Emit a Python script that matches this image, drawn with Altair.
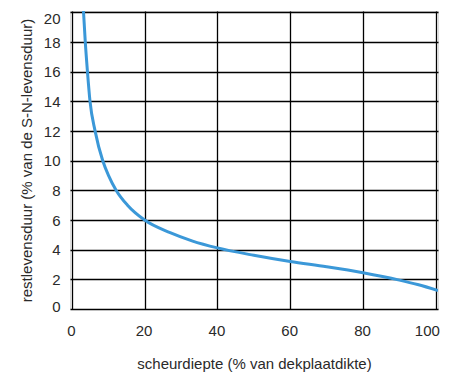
import altair as alt
import pandas as pd

# Curve
depth = [3.2, 3.7, 4.3, 5.0, 6.4, 8.5, 10.1, 12.2, 15.3, 20.0, 27.0, 33.0, 40.0, 50.0, 60.0, 70.0, 80.0, 90.0, 95.0, 100.6]
life = [20.1, 18.0, 16.0, 14.0, 12.0, 10.0, 9.0, 8.0, 7.0, 6.0, 5.15, 4.6, 4.12, 3.62, 3.2, 2.85, 2.45, 1.95, 1.65, 1.25]

x_ticks = [0, 20, 40, 60, 80, 100]
y_ticks = [0, 2, 4, 6, 8, 10, 12, 14, 16, 18, 20]

df = pd.DataFrame({"x": depth, "y": life})

FONT = "Liberation Sans"
TXT = "#2a2a2a"

chart = alt.Chart(df).mark_line(
    color="#3b98d8", strokeWidth=3, interpolate="monotone", clip=True
).encode(
    x=alt.X("x:Q", scale=alt.Scale(domain=[-0.5, 100.6], nice=False, zero=False),
            axis=alt.Axis(values=x_ticks, title="scheurdiepte (% van dekplaatdikte)",
                          grid=True, gridColor="black", gridWidth=1.3, gridOpacity=1,
                          domain=False, ticks=False, labelPadding=14,
                          labelFont=FONT, labelFontSize=15, labelColor=TXT,
                          labelOffset={"condition": {"test": "datum.value == 100", "value": -9}, "value": -1},
                          titleFont=FONT, titleFontSize=15, titleFontWeight="normal", titleColor=TXT,
                          titlePadding=18)),
    y=alt.Y("y:Q", scale=alt.Scale(domain=[0, 20.1], nice=False),
            axis=alt.Axis(values=y_ticks, title="restlevensduur (% van de S-N-levensduur)",
                          grid=True, gridColor="black", gridWidth=1.3, gridOpacity=1,
                          domain=False, ticks=False, labelPadding=10,
                          labelFont=FONT, labelFontSize=15, labelColor=TXT,
                          labelOffset={"condition": [
                              {"test": "datum.value == 20", "value": 6.5},
                              {"test": "datum.value == 0", "value": -2.5}], "value": 0},
                          titleFont=FONT, titleFontSize=15, titleFontWeight="normal", titleColor=TXT,
                          titlePadding=9)),
).properties(
    width=368, height=298,
    autosize=alt.AutoSizeParams(type="none"),
    padding={"left": 70, "top": 11, "right": 15, "bottom": 64},
).configure_view(
    fill="#f0f0f0", stroke="black", strokeWidth=1.6
).configure(background="white")

chart.save("out.html", embed_options={"renderer": "svg", "actions": False})
